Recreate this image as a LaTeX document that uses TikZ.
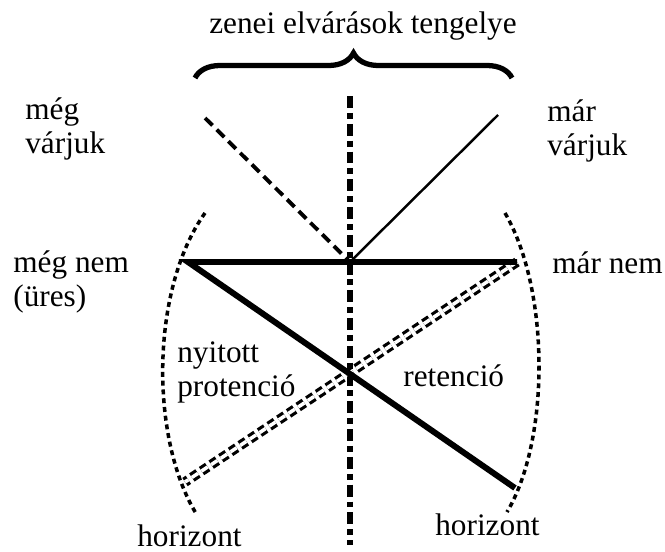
\documentclass[tikz,border=0pt]{standalone}
\usepackage{fontspec}
\setmainfont{Liberation Serif}
\usetikzlibrary{decorations.pathreplacing}
\begin{document}
\begin{tikzpicture}[x=0.02cm,y=-0.02cm,
  lbl/.style={font=\fontsize{17.8}{18.8}\selectfont,inner sep=0pt,align=left},
  axisline/.style={line width=3pt,dash pattern=on 6.8pt off 2.8pt on 3.4pt off 2.8pt},
  nowline/.style={line width=3.4pt},
  horizonline/.style={line width=2pt,dash pattern=on 2.8pt off 2.2pt},
  protline/.style={line width=1.8pt,double,double distance=2pt,dash pattern=on 4.2pt off 2.4pt},
  waitline/.style={line width=2.2pt,dash pattern=on 6pt off 3.4pt},
  doneline/.style={line width=1.4pt}]
\useasboundingbox (0,0) rectangle (665,551);
% points
\coordinate (now) at (350,262);
\coordinate (past) at (188,262);
\coordinate (future) at (517,262);
\coordinate (retend) at (515,488);
\coordinate (protend) at (185,482);
\coordinate (waitstart) at (205,118);
\coordinate (donestart) at (498,115);
\coordinate (axtop) at (350,96);
\coordinate (axbot) at (350,545);
% axis of expectations
\draw[axisline] (axtop) -- (axbot);
\draw[decorate,decoration={brace,amplitude=0.5cm},line width=3pt] (195,78) -- (512,78);
\node[lbl,anchor=base] (axis) at (363,33) {zenei elvárások tengelye};
% horizons
\draw[horizonline] (205,213) .. controls (150,290) and (150,440) .. (197,515);
\draw[horizonline] (505,213) .. controls (550,290) and (550,440) .. (507,512);
% lines
\draw[waitline] (waitstart) -- (now);
\draw[doneline] (now) -- (donestart);
\draw[protline] (future) -- (protend);
\draw[nowline] (future) -- (past) -- (retend);
% labels (base = last line)
\node[lbl,anchor=base west] (megvar) at (25,153) {még\\várjuk};
\node[lbl,anchor=base west] (marvar) at (547,155) {már\\várjuk};
\node[lbl,anchor=base west] (megnem) at (13,306) {még nem\\(üres)};
\node[lbl,anchor=base west] (marnem) at (552,273) {már nem};
\node[lbl,anchor=base west] (prot) at (177,396) {nyitott\\protenció};
\node[lbl,anchor=base west] (ret) at (403,386) {retenció};
\node[lbl,anchor=base west] (horl) at (137,546) {horizont};
\node[lbl,anchor=base west] (horr) at (435,535) {horizont};
\end{tikzpicture}
\end{document}
